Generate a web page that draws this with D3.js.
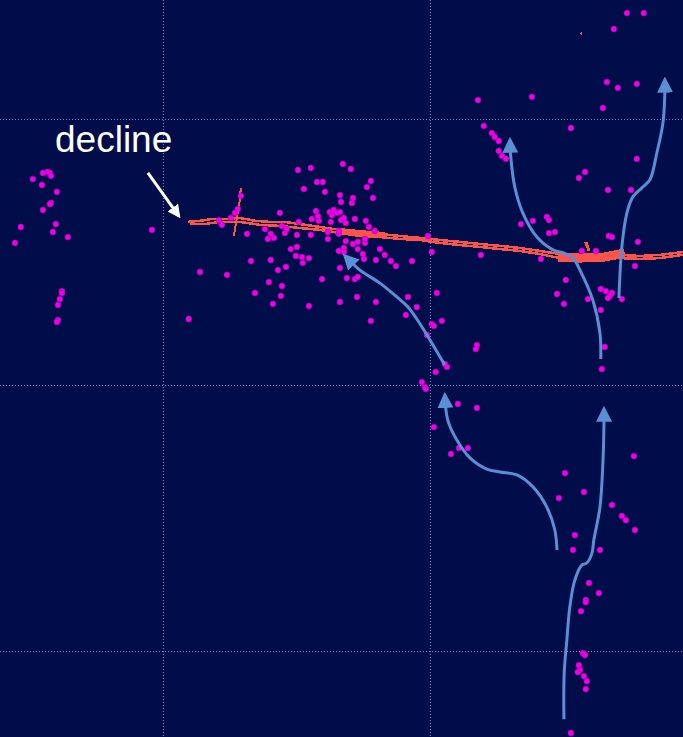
<!DOCTYPE html>
<html lang="en">
<head>
<meta charset="UTF-8">
<title>decline</title>
<script src="https://cdn.jsdelivr.net/npm/d3@7"></script>
<style>
    html, body { margin: 0; padding: 0; background: #010c4a; overflow: hidden; }
    .grid line { stroke: #8a93c8; stroke-width: 1; stroke-dasharray: 1,2; }
    .track { fill: none; stroke: #ff5248; stroke-linejoin: miter; }
    .flow { fill: none; stroke: #5a8fd6; stroke-width: 3; }
    .note { font: 37px "Liberation Sans", Arial, sans-serif; fill: #fff; }
</style>
</head>
<body>
<svg width="683" height="737"></svg>
<script>
    // grid (longitude / latitude)
    var lonTicks = [-80, -70, -60];
    var latTicks = [40, 30, 20];

    // observations [lon, lat]
    var dots = [
        [-84.49,37.97],[-84.31,38.01],[-84.23,37.97],[-84.19,37.86],[-84.87,37.74],[-84.53,37.52],
        [-83.97,37.26],[-84.19,36.84],[-84.23,36.80],[-84.49,36.58],[-84.01,36.05],[-85.32,35.94],
        [-84.12,35.75],[-83.56,35.56],[-85.54,35.34],[-80.41,35.83],[-83.78,33.53],[-83.78,33.46],
        [-83.86,33.23],[-83.93,33.01],[-83.93,32.44],[-83.97,32.37],
        [-79.03,32.48],[-78.61,34.25],[-77.60,34.14],[-76.70,34.66],[-76.55,33.46],[-76.03,33.87],
        [-75.88,33.05],[-75.69,34.32],[-75.58,33.35],[-75.54,33.72],[-75.39,34.44],[-75.96,34.70],
        [-75.21,35.11],[-74.98,35.19],[-75.02,34.85],[-74.79,34.81],[-74.76,34.59],[-74.53,34.77],
        [-74.53,32.97],[-74.04,33.98],[-73.37,33.12],[-73.37,34.40],[-73.11,34.02],[-72.81,33.98],
        [-72.70,34.06],[-72.73,33.31],[-72.02,33.12],[-72.21,32.41],[-70.82,33.31],[-70.90,32.63],
        [-70.49,32.93],[-70.67,34.66],[-71.27,34.47],[-71.46,34.66],[-71.69,34.89],[-71.87,35.11],
        [-72.02,34.70],[-72.47,34.74],[-72.51,34.92],[-72.70,35.11],[-72.88,35.30],[-72.70,35.38],
        [-72.43,35.34],[-72.43,35.49],[-73.15,35.41],[-73.22,35.15],[-73.41,35.04],[-73.22,35.00],
        [-73.82,35.49],[-73.41,35.68],[-73.41,35.79],[-74.46,35.64],[-74.98,35.64],[-75.43,35.71],
        [-75.84,35.53],[-76.07,35.49],[-75.96,35.68],[-76.18,35.86],[-75.54,35.98],[-75.36,35.86],
        [-76.85,35.68],[-77.79,36.02],[-77.90,36.20],[-77.45,36.28],[-77.30,36.47],[-77.19,36.62],
        [-77.08,37.11],[-75.62,36.47],[-74.91,36.13],[-74.42,36.24],[-74.16,36.17],[-74.19,36.35],
        [-74.27,36.54],[-74.72,37.37],[-74.94,38.08],[-74.46,38.16],[-74.23,37.63],[-74.01,37.63],
        [-73.93,37.26],[-73.37,37.14],[-73.33,36.88],[-73.26,38.31],[-72.96,38.12],[-72.88,37.03],
        [-72.92,36.84],[-72.21,37.67],[-72.36,37.44],[-72.13,37.03],[-73.75,36.50],[-73.67,36.39],
        [-73.60,36.58],[-73.48,36.47],[-73.37,36.50],[-73.71,36.13],[-73.33,36.20],[-73.15,36.09],
        [-73.22,36.28],[-72.81,36.24],[-72.40,36.17],[-72.28,35.94],[-73.82,35.75],[-72.06,35.79],
        [-70.07,35.60],[-69.93,35.00],[-69.74,33.46],[-69.55,32.41],[-69.93,32.29],[-69.85,32.22],
        [-70.11,31.88],[-68.24,31.50],[-68.28,31.35],[-69.44,30.79],[-69.36,30.68],[-69.78,30.49],
        [-70.30,30.11],[-70.19,29.92],[-70.15,29.85],[-68.95,29.29],[-68.24,29.14],[-69.85,28.42],
        [-68.91,27.63],[-68.58,27.63],[-69.21,27.41],[-62.36,27.33],[-64.94,26.69],[-64.23,25.98],
        [-65.17,25.75],[-63.18,25.49],[-62.81,25.08],[-62.66,24.92],[-62.32,24.55],[-64.57,24.36],
        [-64.64,23.80],[-63.63,23.80],[-64.04,22.56],[-63.67,22.18],[-64.16,21.92],[-64.16,21.84],
        [-64.34,21.50],[-64.27,19.92],[-64.19,19.85],[-64.42,19.47],[-64.38,19.29],[-64.46,19.21],
        [-64.23,19.06],[-64.12,18.87],[-64.16,18.57],[-64.72,16.92],
        [-68.20,40.71],[-66.18,40.83],[-63.37,41.39],[-62.96,41.17],[-62.25,41.32],[-63.52,40.41],
        [-62.62,43.98],[-61.99,43.98],[-63.11,43.38],[-67.98,39.74],[-67.68,39.47],[-67.57,39.32],
        [-67.42,39.17],[-67.42,38.80],[-67.30,38.61],[-67.15,38.50],[-64.72,39.66],[-62.25,38.50],
        [-64.19,38.01],[-64.42,37.78],[-63.33,37.33],[-62.47,37.33],[-66.14,36.17],[-66.59,36.05],
        [-65.62,36.32],[-65.54,36.20],[-65.54,35.71],[-65.32,35.75],[-63.30,35.60],[-63.18,35.56],
        [-62.21,35.38],[-68.09,34.89],[-65.84,34.74],[-64.31,35.04],[-63.78,35.04],[-62.32,34.47],
        [-64.91,33.95],[-65.24,33.42],[-64.98,33.05],[-64.08,33.23],[-63.60,33.61],[-63.41,33.53],
        [-63.18,33.46],[-63.26,33.35],[-63.33,33.27],[-62.81,33.23],[-63.60,32.82],[-63.45,31.43],
        [-63.56,30.60]
    ];

    // decline tracks [lon, lat], with line width
    var trackA = [[-79.06,36.13],[-78.61,36.17],[-78.16,36.24],[-77.68,36.24],[-77.12,36.28],[-76.55,36.17],
        [-75.99,36.13],[-75.43,36.13],[-74.87,36.05],[-74.12,35.94],[-73.37,35.83],[-72.62,35.75],
        [-71.87,35.68],[-71.12,35.60],[-70.37,35.53],[-69.63,35.45],[-68.88,35.38],[-68.13,35.30],
        [-67.38,35.23],[-66.63,35.15],[-65.88,35.04],[-65.13,34.92],[-64.38,34.89],[-63.63,34.89],
        [-62.88,34.89],[-62.13,34.85],[-61.39,34.89],[-60.52,35.00]];
    var trackB = [[-78.99,36.05],[-78.43,36.05],[-77.87,36.13],[-77.12,36.13],[-76.37,36.02],[-75.62,35.98],
        [-74.87,35.90],[-74.12,35.83],[-73.37,35.71],[-72.62,35.60],[-71.87,35.56],[-71.12,35.49],
        [-70.37,35.45],[-69.63,35.34],[-68.88,35.26],[-68.13,35.19],[-67.38,35.11],[-66.63,35.04],
        [-65.88,34.92],[-65.13,34.77],[-64.38,34.74],[-63.63,34.74],[-62.88,34.77],[-62.13,34.74],
        [-61.39,34.77],[-60.52,34.89]];
    var trackC = [[-73.37,35.79],[-72.62,35.71],[-71.69,35.64]];
    var trackD = [[-65.21,34.81],[-64.38,34.77],[-63.45,34.81],[-62.70,34.96]];
    var trackE = [[-77.08,37.41],[-77.12,36.95],[-77.19,36.50],[-77.27,36.02],[-77.34,35.60]];
    var trackF = [[-64.16,35.38],[-64.04,35.04]];
    var trackG = [[-64.36,43.18],[-64.30,43.22]];
    var tracks = [
        { pts: trackA, w: 2.5 }, { pts: trackB, w: 2.5 }, { pts: trackC, w: 6 },
        { pts: trackD, w: 9 }, { pts: trackE, w: 2 }, { pts: trackF, w: 3 }, { pts: trackG, w: 2 }
    ];

    // flow arrows [lon, lat], tail to head
    var flow1 = [[-69.44,30.75],[-70.11,31.88],[-70.49,32.48],[-70.82,32.93],[-71.24,33.31],[-71.87,33.83],
        [-72.62,34.32],[-73.18,34.85]];
    var flow2 = [[-63.60,30.98],[-63.63,31.95],[-63.90,33.20],[-64.38,34.32],[-64.64,34.77],[-65.02,34.97],
        [-65.39,35.08],[-65.99,35.56],[-66.52,36.47],[-66.82,37.44],[-66.97,38.57],[-67.00,39.21]];
    var flow3 = [[-62.92,33.27],[-62.81,35.19],[-62.62,36.47],[-62.40,37.07],[-62.06,37.41],[-61.76,37.71],
        [-61.50,38.72],[-61.27,39.85],[-61.20,40.98],[-61.20,41.47]];
    var flow4 = [[-65.24,23.80],[-65.32,24.55],[-65.62,25.41],[-66.14,26.17],[-66.74,26.62],[-67.38,26.73],
        [-67.87,26.84],[-68.50,27.26],[-68.99,27.93],[-69.33,28.68],[-69.44,29.62]];
    var flow5 = [[-64.98,17.44],[-64.97,19.17],[-64.87,20.41],[-64.76,21.65],[-64.57,22.67],[-64.31,23.23],
        [-64.12,23.31],[-63.93,23.68],[-63.86,24.17],[-63.63,25.41],[-63.52,27.07],[-63.48,28.57],
        [-63.48,29.10]];
    var flows = [flow1, flow2, flow3, flow4, flow5];

    // annotation
    var noteText = "decline";
    var notePos = [-84.04, 38.76];
    var notePointer = [[-80.56,37.97],[-79.40,36.35]];

    var svg = d3.select("svg"),
        width = +svg.attr("width"),
        height = +svg.attr("height");

    var x = d3.scaleLinear().domain([-86.1, -60.52]).range([0, width]);
    var y = d3.scaleLinear().domain([44.47, 16.77]).range([0, height]);

    svg.append("rect").attr("width", width).attr("height", height).attr("fill", "#010c4a");

    var defs = svg.append("defs");
    defs.append("marker")
        .attr("id", "blueHead")
        .attr("viewBox", "0 0 10 10")
        .attr("refX", 8).attr("refY", 5)
        .attr("markerWidth", 16).attr("markerHeight", 16)
        .attr("markerUnits", "userSpaceOnUse")
        .attr("orient", "auto")
        .append("path").attr("d", "M0,0L10,5L0,10z").attr("fill", "#5a8fd6");
    defs.append("marker")
        .attr("id", "whiteHead")
        .attr("viewBox", "0 0 10 10")
        .attr("refX", 8).attr("refY", 5)
        .attr("markerWidth", 13).attr("markerHeight", 13)
        .attr("markerUnits", "userSpaceOnUse")
        .attr("orient", "auto")
        .append("path").attr("d", "M0,0L10,5L0,10z").attr("fill", "#fff");

    var grid = svg.append("g").attr("class", "grid");
    grid.selectAll(".gx").data(lonTicks).enter().append("line")
        .attr("x1", function(d) { return x(d) + 0.5; }).attr("x2", function(d) { return x(d) + 0.5; })
        .attr("y1", 0).attr("y2", height);
    grid.selectAll(".gy").data(latTicks).enter().append("line")
        .attr("y1", function(d) { return y(d) + 0.5; }).attr("y2", function(d) { return y(d) + 0.5; })
        .attr("x1", 0).attr("x2", width);

    var line = d3.line()
        .x(function(d) { return x(d[0]); })
        .y(function(d) { return y(d[1]); });

    svg.append("g").selectAll("path")
        .data(tracks).enter().append("path")
        .attr("class", "track")
        .attr("shape-rendering", "crispEdges")
        .attr("stroke-width", function(d) { return d.w; })
        .attr("d", function(d) { return line(d.pts); });

    svg.append("g").selectAll("circle")
        .data(dots).enter().append("circle")
        .attr("cx", function(d) { return x(d[0]); })
        .attr("cy", function(d) { return y(d[1]); })
        .attr("r", 2.9)
        .attr("fill", "#f200e6")
        .attr("stroke", "#b300b8")
        .attr("stroke-width", 0.6);

    var curve = d3.line()
        .curve(d3.curveCatmullRom.alpha(0.5))
        .x(function(d) { return x(d[0]); })
        .y(function(d) { return y(d[1]); });

    svg.append("g").selectAll("path")
        .data(flows).enter().append("path")
        .attr("class", "flow")
        .attr("marker-end", "url(#blueHead)")
        .attr("d", curve);

    svg.append("path")
        .attr("d", line(notePointer))
        .attr("stroke", "#fff").attr("stroke-width", 3).attr("fill", "none")
        .attr("marker-end", "url(#whiteHead)");

    svg.append("text")
        .attr("class", "note")
        .attr("x", x(notePos[0]))
        .attr("y", y(notePos[1]))
        .text(noteText);
</script>
</body>
</html>
